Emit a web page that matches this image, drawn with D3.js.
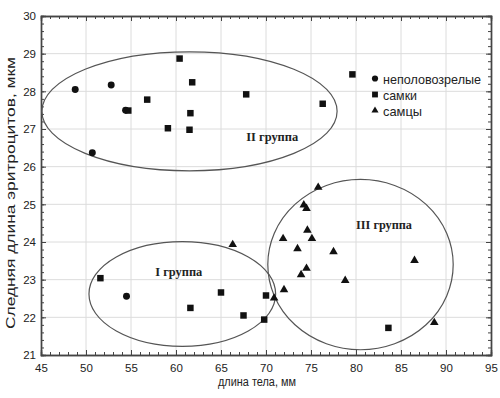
<!DOCTYPE html>
<html><head><meta charset="utf-8">
<script src="https://cdn.jsdelivr.net/npm/d3@7"></script>
<style>
html,body{margin:0;padding:0;background:#fff;}
svg text{font-family:"Liberation Sans",Arial,sans-serif;}
</style></head>
<body><svg id="c" width="500" height="398"></svg>
<script>
// data
const immature = [[48.8,28.05],[52.8,28.17],[54.4,27.5],[50.7,26.37],[54.5,22.56]];
const females = [[54.7,27.49],[60.4,28.87],[61.8,28.24],[56.8,27.78],[61.6,27.42],[59.1,27.02],[61.5,26.98],[67.8,27.92],[79.6,28.45],[76.3,27.67],
  [51.6,23.04],[61.6,22.25],[65.0,22.66],[67.5,22.05],[70.0,22.58],[69.8,21.94],[83.6,21.72]];
const males = [[66.3,23.93],[75.8,25.45],[74.2,24.98],[74.5,24.89],[74.6,24.31],[71.9,24.09],[75.1,24.09],[73.5,23.82],[77.5,23.74],[86.5,23.51],
  [74.5,23.30],[73.9,23.13],[78.8,22.98],[72.0,22.73],[70.9,22.51],[88.7,21.86]];
const groups = [
  {label:"II группа", cx:61.5, cy:27.47, rx:16.4, ry:1.58, lx:67.8, ly:26.67, w:52},
  {label:"I группа", cx:60.7, cy:22.62, rx:10.37, ry:1.39, lx:57.7, ly:23.1, w:47},
  {label:"III группа", cx:80.5, cy:23.40, rx:10.3, ry:2.26, lx:80.0, ly:24.34, w:56}
];
const xTicks = [45,50,55,60,65,70,75,80,85,90,95];
const yTicks = [21,22,23,24,25,26,27,28,29,30];
const legendLabels = ["неполовозрелые","самки","самцы"];
const legendWidths = [98,34,39];

const svg = d3.select("#c");
const L=41, R=491, T=16, B=355;
const x = d3.scaleLinear().domain([45,95]).range([L,R]);
const y = d3.scaleLinear().domain([21,30]).range([B,T]);

// grid
const g = svg.append("g");
g.selectAll(".gx").data(xTicks.slice(1,-1)).join("line")
  .attr("x1",d=>x(d)).attr("x2",d=>x(d)).attr("y1",T).attr("y2",B)
  .attr("stroke","#dcdcdc").attr("stroke-width",1);
g.selectAll(".gy").data(yTicks.slice(1,-1)).join("line")
  .attr("y1",d=>y(d)).attr("y2",d=>y(d)).attr("x1",L).attr("x2",R)
  .attr("stroke","#dcdcdc").attr("stroke-width",1);

// axes
const ax = (axis, tr) => svg.append("g").attr("transform",tr).call(axis)
  .call(s=>s.select(".domain").attr("stroke","#444").attr("stroke-width",1.4))
  .call(s=>s.selectAll("line").attr("stroke","#444"));
const xMinor = d3.range(45,95.01,1), yMinor = d3.range(21,30.001,0.2);
ax(d3.axisBottom(x).tickValues(xMinor).tickSize(-3).tickFormat(""), `translate(0,${B})`);
ax(d3.axisTop(x).tickValues(xMinor).tickSize(-3).tickFormat(""), `translate(0,${T})`);
ax(d3.axisLeft(y).tickValues(yMinor).tickSize(-3).tickFormat(""), `translate(${L},0)`);
ax(d3.axisRight(y).tickValues(yMinor).tickSize(-3).tickFormat(""), `translate(${R},0)`);
const xa = ax(d3.axisBottom(x).tickValues(xTicks).tickSize(-5).tickPadding(9).tickFormat(d3.format("d")), `translate(0,${B})`);
xa.selectAll("text").attr("font-size",11.5).attr("fill","#222");
const ya = ax(d3.axisLeft(y).tickValues(yTicks).tickSize(-5).tickPadding(5).tickFormat(d3.format("d")), `translate(${L},0)`);
ya.selectAll("text").attr("font-size",11.5).attr("fill","#222");
ax(d3.axisTop(x).tickValues(xTicks).tickSize(-5).tickFormat(""), `translate(0,${T})`);
ax(d3.axisRight(y).tickValues(yTicks).tickSize(-5).tickFormat(""), `translate(${R},0)`);

// titles
svg.append("text").attr("x",257).attr("y",386).attr("text-anchor","middle")
  .attr("font-size",12.5).attr("fill","#222")
  .attr("textLength",78).attr("lengthAdjust","spacingAndGlyphs").text("длина тела, мм");
svg.append("text").attr("transform",`translate(15,193) rotate(-90)`).attr("text-anchor","middle")
  .attr("font-size",13).attr("fill","#222")
  .attr("textLength",272).attr("lengthAdjust","spacingAndGlyphs").text("Следняя длина эритроцитов, мкм");

// ellipses
svg.selectAll(".el").data(groups).join("ellipse")
  .attr("cx",d=>x(d.cx)).attr("cy",d=>y(d.cy))
  .attr("rx",d=>x(d.cx+d.rx)-x(d.cx)).attr("ry",d=>y(d.cy)-y(d.cy+d.ry))
  .attr("fill","none").attr("stroke","#555").attr("stroke-width",1.2);
svg.selectAll(".gl").data(groups).join("text")
  .attr("x",d=>x(d.lx)).attr("y",d=>y(d.ly))
  .attr("font-weight","bold").attr("textLength",d=>d.w).attr("lengthAdjust","spacingAndGlyphs")
  .attr("font-size",13.5).attr("fill","#222").style("font-family","'Liberation Serif',serif").text(d=>d.label);

// points
const sym = [d3.symbolCircle, d3.symbolSquare, d3.symbolTriangle];
const sizes = [38, 42, 32];
[immature, females, males].forEach((arr,i)=>{
  svg.append("g").selectAll("path").data(arr).join("path")
    .attr("transform",d=>`translate(${x(d[0])},${y(d[1])})`)
    .attr("d",d3.symbol().type(sym[i]).size(sizes[i])).attr("fill","#111");
});

// legend
const lg = svg.append("g").attr("transform","translate(375,78.5)");
legendLabels.forEach((t,i)=>{
  lg.append("path").attr("transform",`translate(0,${i*16})`)
    .attr("d",d3.symbol().type(sym[i]).size(i==2?22:[30,34][i])).attr("fill","#111");
  lg.append("text").attr("x",8).attr("y",i*16+5).attr("font-size",13.5).attr("fill","#222")
    .attr("textLength",legendWidths[i]).attr("lengthAdjust","spacingAndGlyphs").text(t);
});
</script></body></html>
